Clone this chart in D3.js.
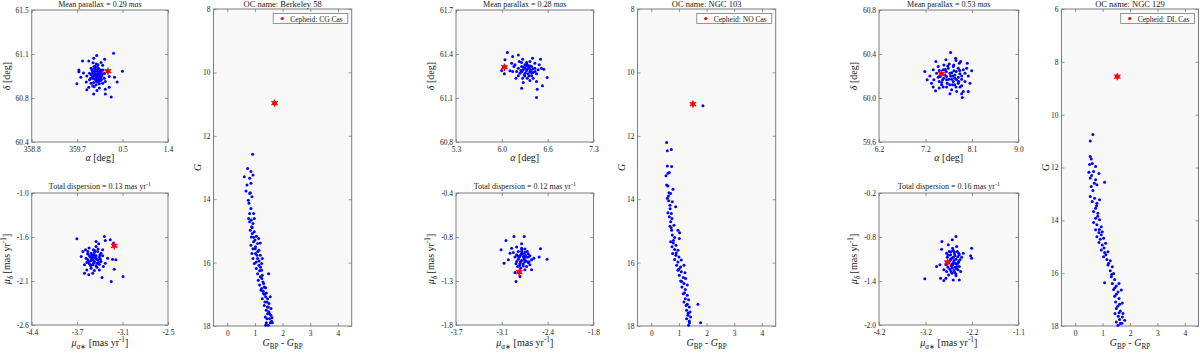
<!DOCTYPE html>
<html><head><meta charset="utf-8">
<script src="https://cdn.jsdelivr.net/npm/d3@7"></script>
<style>
body{margin:0;background:#fff}
svg{display:block}
</style></head><body>
<script>
// one column of panels per open cluster
var clusterNames = ["Berkeley 58", "NGC 103", "NGC 129"];
var cepheidNames = ["CG Cas", "NO Cas", "DL Cas"];
var meanParallax = ["0.29", "0.28", "0.53"];
var totalDispersion = ["0.13", "0.12", "0.16"];

// tick labels (4 evenly spaced ticks, first/last = axis limits)
var raTicks = [["358.8", "359.7", "0.5", "1.4"], ["5.3", "6.0", "6.6", "7.3"], ["6.2", "7.2", "8.1", "9.0"]];
var decTicks = [["60.4", "60.8", "61.1", "61.5"], ["60.8", "61.1", "61.4", "61.7"], ["59.6", "60.0", "60.4", "60.8"]];
var pmraTicks = [["-4.4", "-3.7", "-3.1", "-2.5"], ["-3.7", "-3.1", "-2.4", "-1.8"], ["-4.2", "-3.2", "-2.2", "-1.1"]];
var pmdecTicks = [["-2.6", "-2.1", "-1.6", "-1.0"], ["-1.8", "-1.3", "-0.8", "-0.4"], ["-2.0", "-1.4", "-0.8", "-0.2"]];
var colorTicks = [0, 1, 2, 3, 4];
var gTicks = [[8, 10, 12, 14, 16, 18], [8, 10, 12, 14, 16, 18], [6, 8, 10, 12, 14, 16, 18]];

// cepheids: [ra, dec], [pmra, pmdec], [BP-RP, G]
var cepheidPos = [[0.254, 60.99], [6.004, 61.31], [7.456, 60.22]];
var cepheidPM = [[-3.25, -1.64], [-2.826, -1.24], [-2.676, -1.148]];
var cepheidCMD = [[1.71, 10.97], [1.506, 11.0], [1.537, 8.56]];

// member stars
var b58Pos = [[0.361,61.14],[359.769,61.076],[359.889,61.076],[0.040,61.12],[359.983,61.098],[0.191,61.09],[359.700,61.001],[359.700,60.985],[359.788,60.974],[359.662,60.885],[359.738,60.94],[359.851,60.95],[359.84,60.899],[359.902,60.918],[359.851,60.835],[359.889,60.857],[359.965,60.868],[359.983,60.80],[0.046,60.83],[0.09,60.85],[0.204,60.80],[0.204,60.84],[0.279,60.857],[0.317,60.774],[0.38,60.94],[0.43,60.90],[0.531,60.99],[0.279,60.946],[0.204,60.904],[0.122,61.0],[0.154,61.04],[0.015,60.951],[0.059,60.968],[0.090,60.987],[0.028,61.001],[359.965,60.987],[359.933,60.960],[0.078,60.932],[0.122,60.946],[0.154,60.968],[359.996,60.924],[0.040,60.904],[0.109,60.910],[359.952,60.94],[0.015,61.029],[0.065,61.043],[0.122,61.062],[359.933,61.015],[359.902,60.973],[359.983,60.896],[0.090,60.885],[0.154,60.890],[0.185,60.932],[0.028,60.877],[359.933,60.890],[0.04,60.96],[0.0,60.97],[0.07,60.95],[0.1,60.96],[0.05,60.99],[359.98,60.95],[0.02,60.93],[0.11,60.98],[359.95,61.0],[0.06,60.92],[0.13,60.92],[0.0,61.01],[0.08,61.01],[359.92,60.93],[0.03,61.05],[359.97,61.06],[0.16,61.0],[0.19,60.97],[0.09,60.91],[359.99,60.86],[0.01,60.99],[0.05,60.94],[0.08,60.97],[359.97,60.93],[0.12,60.99],[0.03,60.915],[0.06,61.02],[359.99,61.03],[0.1,60.935],[0.14,60.95],[0.02,60.96],[359.96,60.97],[0.07,60.9],[0.045,61.0]];
var b58PM = [[-3.77,-1.555],[-3.388,-1.527],[-3.305,-1.567],[-3.259,-1.607],[-3.374,-1.575],[-3.503,-1.587],[-3.466,-1.616],[-3.687,-1.709],[-3.65,-1.689],[-3.664,-1.871],[-3.632,-1.932],[-3.604,-1.992],[-3.549,-1.972],[-3.526,-1.94],[-3.42,-2.025],[-3.291,-2.073],[-3.25,-1.923],[-3.227,-1.81],[-3.273,-1.802],[-3.126,-2.013],[-3.342,-1.79],[-3.374,-1.85],[-3.71,-1.77],[-3.664,-1.972],[-3.618,-1.709],[-3.572,-1.729],[-3.526,-1.721],[-3.48,-1.709],[-3.434,-1.729],[-3.595,-1.761],[-3.549,-1.778],[-3.503,-1.761],[-3.457,-1.778],[-3.411,-1.761],[-3.618,-1.81],[-3.572,-1.818],[-3.526,-1.83],[-3.48,-1.81],[-3.434,-1.83],[-3.595,-1.859],[-3.549,-1.871],[-3.503,-1.883],[-3.457,-1.863],[-3.572,-1.911],[-3.503,-1.648],[-3.475,-1.68],[-3.54,-1.689],[-3.6,-1.668],[-3.411,-1.689],[-3.402,-1.891],[-3.641,-1.79],[-3.632,-1.842],[-3.457,-1.932],[-3.517,-1.79],[-3.558,-1.802],[-3.49,-1.85],[-3.443,-1.802],[-3.531,-1.749],[-3.581,-1.778],[-3.56,-1.75],[-3.5,-1.8],[-3.54,-1.85],[-3.47,-1.84],[-3.6,-1.83],[-3.52,-1.7],[-3.45,-1.75],[-3.58,-1.88],[-3.49,-1.9],[-3.62,-1.74],[-3.51,-1.77],[-3.55,-1.81]];
var b58CMD = [[0.916,12.58],[0.735,13.03],[0.614,13.29],[0.855,13.13],[0.928,13.24],[0.807,13.34],[0.711,13.55],[0.855,13.50],[0.675,13.74],[0.831,13.80],[0.892,13.92],[0.783,14.13],[0.855,14.29],[0.807,14.45],[0.771,14.61],[0.867,14.66],[0.976,14.61],[0.928,14.77],[0.831,14.98],[0.976,15.03],[0.867,15.19],[1.048,15.17],[1.133,15.24],[0.952,15.34],[1.096,15.40],[0.855,15.45],[1.193,15.38],[1.012,15.56],[0.892,15.71],[1.072,15.77],[1.193,15.77],[0.928,15.87],[1.096,15.87],[1.265,15.87],[0.976,16.03],[1.145,16.08],[1.048,16.19],[1.241,16.24],[1.494,16.35],[1.096,16.35],[1.193,16.45],[1.12,16.56],[1.289,16.61],[1.169,16.71],[1.337,16.77],[1.217,16.87],[1.313,16.98],[1.386,17.08],[1.265,17.14],[1.434,17.24],[1.337,17.35],[1.482,17.40],[1.41,17.50],[1.554,17.08],[1.578,17.45],[1.458,17.61],[1.374,17.72],[1.53,17.77],[1.614,17.74],[1.41,17.90],[1.554,17.90],[1.482,17.98],[1.627,17.90],[1.024,15.71],[0.928,15.56],[1.145,15.61],[1.241,16.03],[1.048,15.98],[1.0,15.29],[0.904,15.08],[1.169,16.26],[1.265,16.40],[1.313,16.66],[1.386,16.79],[1.241,16.82],[1.41,16.96],[1.458,17.14],[1.361,17.24],[1.506,17.29],[1.53,17.61],[1.578,17.66],[1.434,17.77],[1.386,17.98],[0.88,14.87],[0.807,14.71],[0.952,14.45],[0.759,14.03],[0.807,13.82],[1.02,15.5],[1.1,15.65],[1.15,15.95],[1.2,16.15],[1.25,16.5],[1.3,16.9],[1.35,17.0],[1.45,17.4],[1.5,17.55],[1.6,17.85],[0.95,15.2],[0.9,14.9]];

var n103Pos = [[6.047,61.41],[6.124,61.383],[6.206,61.394],[6.013,61.36],[5.965,61.287],[6.004,61.265],[6.085,61.285],[6.143,61.315],[6.22,61.349],[6.269,61.364],[6.413,61.371],[6.529,61.364],[6.577,61.296],[6.625,61.24],[6.558,61.183],[6.481,61.16],[6.471,61.213],[6.471,61.104],[6.375,61.22],[6.278,61.206],[6.254,61.167],[6.172,61.235],[6.124,61.28],[6.254,61.315],[6.302,61.326],[6.351,61.319],[6.399,61.315],[6.447,61.303],[6.495,61.292],[6.278,61.292],[6.326,61.287],[6.375,61.281],[6.423,61.274],[6.23,61.269],[6.292,61.258],[6.351,61.265],[6.399,61.251],[6.326,61.342],[6.375,61.349],[6.254,61.342],[6.206,61.303],[6.182,61.281],[6.447,61.337],[6.543,61.303],[6.51,61.326],[6.302,61.303],[6.244,61.287],[6.336,61.235],[6.268,61.235],[6.423,61.235],[6.206,61.251],[6.158,61.326],[6.109,61.337],[6.471,61.265],[6.365,61.303],[6.317,61.319],[6.28,61.31],[6.34,61.3],[6.39,61.29],[6.31,61.27],[6.36,61.25],[6.42,61.3],[6.26,61.28],[6.33,61.33],[6.4,61.27],[6.3,61.25],[6.45,61.28],[6.37,61.32]];
var n103PM = [[-3.077,-1.002],[-3.009,-0.903],[-2.899,-0.861],[-2.757,-0.861],[-2.794,-0.939],[-3.036,-1.144],[-2.977,-1.109],[-2.885,-1.243],[-2.871,-1.339],[-2.816,-1.286],[-2.533,-0.992],[-2.441,-1.102],[-2.551,-1.08],[-2.624,-1.091],[-2.656,-1.215],[-2.748,-1.215],[-2.954,-1.038],[-2.931,-0.985],[-2.862,-0.974],[-2.839,-1.02],[-2.794,-1.02],[-2.748,-1.031],[-2.702,-1.045],[-2.862,-1.056],[-2.816,-1.066],[-2.771,-1.073],[-2.725,-1.08],[-2.679,-1.066],[-2.839,-1.102],[-2.794,-1.116],[-2.748,-1.127],[-2.702,-1.137],[-2.816,-1.151],[-2.771,-1.173],[-2.725,-1.18],[-2.862,-1.127],[-2.885,-1.08],[-2.656,-1.109],[-2.794,-0.985],[-2.748,-0.995],[-2.908,-1.031],[-2.807,-1.197],[-2.848,-1.18],[-2.679,-1.162],[-2.78,-1.045],[-2.825,-1.08],[-2.757,-1.102],[-2.716,-1.02],[-2.871,-1.151],[-2.8,-1.05],[-2.76,-1.09],[-2.73,-1.12],[-2.81,-1.13],[-2.77,-1.15],[-2.7,-1.08],[-2.84,-1.07],[-2.79,-1.0],[-2.74,-1.06],[-2.82,-1.17],[-2.69,-1.13]];
var n103CMD = [[1.867,11.05],[0.554,12.21],[0.578,12.47],[0.723,12.43],[0.578,12.95],[0.735,12.97],[0.602,13.18],[0.651,13.16],[0.53,13.26],[0.783,13.69],[0.554,13.55],[0.602,13.58],[0.639,13.80],[0.699,13.82],[0.578,13.97],[0.627,14.05],[0.759,14.08],[0.88,14.24],[0.675,14.19],[0.602,14.43],[0.723,14.45],[0.651,14.55],[0.747,14.61],[0.699,14.71],[0.675,14.85],[0.819,14.82],[0.735,14.98],[0.964,14.98],[1.024,15.06],[0.759,15.13],[0.843,15.21],[1.012,15.24],[0.699,15.34],[0.795,15.38],[0.892,15.45],[0.747,15.50],[0.843,15.59],[0.964,15.61],[0.771,15.71],[0.892,15.77],[1.0,15.82],[0.843,15.90],[0.964,15.98],[1.084,15.92],[0.916,16.08],[1.06,16.14],[1.181,16.08],[0.964,16.24],[1.084,16.29],[1.217,16.32],[1.012,16.40],[1.157,16.47],[1.241,16.50],[1.06,16.58],[1.181,16.66],[1.301,16.71],[1.108,16.77],[1.229,16.85],[1.157,16.98],[1.301,17.03],[1.229,17.14],[1.349,17.17],[1.181,17.24],[1.301,17.31],[1.687,17.31],[1.373,17.40],[1.277,17.50],[1.398,17.56],[1.325,17.66],[1.422,17.72],[1.277,17.77],[1.373,17.84],[1.783,17.90],[1.349,17.98],[0.62,13.9],[0.68,14.3],[0.72,14.9],[0.8,15.3],[0.9,15.7],[1.0,16.2],[1.1,16.6],[1.2,16.95],[1.26,17.35],[1.33,17.6],[1.38,17.9]];

var n129Pos = [[7.637,60.413],[7.12,60.241],[7.167,60.165],[7.288,60.099],[7.335,60.065],[7.254,60.135],[7.342,60.331],[7.543,60.347],[7.738,60.362],[7.745,60.34],[7.838,60.331],[7.973,60.316],[8.06,60.247],[7.993,60.201],[8.026,60.135],[7.993,60.06],[7.872,60.005],[7.892,60.06],[7.825,60.099],[7.791,60.135],[7.556,60.099],[7.456,60.12],[7.409,60.15],[7.221,60.201],[7.288,60.256],[7.389,60.286],[7.489,60.256],[7.59,60.271],[7.691,60.286],[7.791,60.271],[7.892,60.256],[7.523,60.21],[7.624,60.226],[7.724,60.21],[7.825,60.22],[7.926,60.226],[7.422,60.195],[7.556,60.165],[7.657,60.171],[7.758,60.165],[7.859,60.171],[7.355,60.226],[7.61,60.31],[7.704,60.247],[7.476,60.165],[7.57,60.135],[7.677,60.12],[7.745,60.099],[7.657,60.075],[7.758,60.06],[7.859,60.111],[7.926,60.15],[7.502,60.301],[7.812,60.316],[7.409,60.25],[7.301,60.165],[7.556,60.195],[7.637,60.201],[7.791,60.189],[7.691,60.15],[7.859,60.038],[7.624,60.038],[7.489,60.099],[7.409,60.09],[7.389,60.189],[7.959,60.271],[7.45,60.22],[7.55,60.24],[7.66,60.23],[7.75,60.24],[7.86,60.2],[7.5,60.18],[7.6,60.17],[7.72,60.18],[7.8,60.15],[7.58,60.29],[7.7,60.3],[7.62,60.12],[7.72,60.12],[7.53,60.26],[7.82,60.25],[7.68,60.2],[7.46,60.14]];
var n129PM = [[-2.49,-0.792],[-2.572,-0.838],[-2.802,-0.861],[-2.661,-0.906],[-2.81,-0.966],[-2.141,-0.952],[-2.163,-1.057],[-2.141,-1.089],[-2.327,-1.02],[-2.921,-1.203],[-2.847,-1.18],[-3.182,-1.371],[-2.832,-1.362],[-2.758,-1.394],[-2.713,-1.362],[-2.55,-1.385],[-2.416,-1.385],[-2.49,-1.303],[-2.698,-1.271],[-2.758,-1.248],[-2.639,-0.997],[-2.55,-0.984],[-2.46,-0.997],[-2.609,-1.043],[-2.513,-1.057],[-2.416,-1.043],[-2.683,-1.075],[-2.587,-1.089],[-2.49,-1.102],[-2.401,-1.111],[-2.639,-1.134],[-2.55,-1.148],[-2.46,-1.166],[-2.594,-1.193],[-2.505,-1.212],[-2.416,-1.203],[-2.624,-1.239],[-2.535,-1.257],[-2.446,-1.248],[-2.579,-1.294],[-2.49,-1.33],[-2.654,-1.317],[-2.565,-0.952],[-2.475,-0.929],[-2.698,-1.02],[-2.364,-1.075],[-2.713,-1.18],[-2.386,-1.271],[-2.528,-1.006],[-2.609,-1.102],[-2.431,-1.134],[-2.565,-1.166],[-2.668,-1.212],[-2.475,-1.203],[-2.55,-1.075],[-2.6,-1.0],[-2.52,-1.03],[-2.45,-1.07],[-2.62,-1.12],[-2.53,-1.12],[-2.44,-1.15],[-2.57,-1.22],[-2.48,-1.23],[-2.6,-1.27],[-2.52,-1.28],[-2.66,-1.05],[-2.43,-1.02],[-2.56,-1.18],[-2.5,-1.16]];
var n129CMD = [[0.646,10.75],[0.549,11.0],[0.549,11.58],[0.585,11.68],[0.524,11.89],[0.622,11.85],[0.744,11.96],[0.5,12.18],[0.671,12.15],[0.866,12.23],[0.549,12.40],[0.744,12.46],[0.585,12.72],[0.793,12.65],[1.073,12.56],[0.646,12.87],[0.549,13.10],[0.707,13.16],[0.622,13.29],[0.793,13.35],[0.89,13.22],[0.744,13.54],[0.671,13.67],[0.829,13.73],[0.744,13.92],[0.89,13.98],[0.671,14.08],[0.793,14.17],[0.951,14.24],[0.744,14.36],[0.866,14.46],[0.988,14.43],[0.793,14.62],[0.915,14.72],[1.037,14.68],[0.866,14.84],[0.988,14.93],[1.11,14.87],[0.951,15.12],[1.073,15.22],[1.195,15.19],[1.037,15.38],[1.159,15.48],[1.28,15.53],[1.195,15.69],[1.354,15.76],[1.28,15.91],[1.402,16.01],[1.073,16.36],[1.317,16.14],[1.439,16.24],[1.354,16.39],[1.5,16.49],[1.598,16.39],[1.402,16.62],[1.561,16.71],[1.683,16.64],[1.439,16.87],[1.598,16.96],[1.476,17.09],[1.622,17.18],[1.72,17.13],[1.5,17.34],[1.646,17.43],[1.451,17.53],[1.573,17.63],[1.72,17.66],[1.805,17.78],[1.5,17.85],[1.646,17.91],[1.561,17.97],[1.744,17.53],[0.6,12.3],[0.7,12.6],[0.78,13.45],[0.82,13.85],[0.88,14.35],[0.95,14.55],[1.05,15.05],[1.12,15.3],[1.22,15.62],[1.33,16.05],[1.45,16.55],[1.5,16.8],[1.55,17.25],[1.6,17.5],[1.7,17.9],[1.62,17.75]];

var posData = [b58Pos, n103Pos, n129Pos];
var pmData = [b58PM, n103PM, n129PM];
var cmdData = [b58CMD, n103CMD, n129CMD];

// layout
var smallLeft = [31.7, 456, 879], smallRight = [168, 593.5, 1018.5];
var cmdLeft = [213.5, 637.5, 1061.5], cmdRight = [351.7, 775.7, 1198.5];
var posTop = 10, pmTop = 193, smallH = 132, cmdTop = 9, cmdBottom = 326;
var frameColor = "#7d7d7d", textColor = "#1a1a1a", serif = "Liberation Serif";

var svg = d3.select("body").append("svg")
    .attr("width", 1200)
    .attr("height", 353)
    .attr("font-family", serif);

// RA wraps at 360
function wrapRa(v) { return v > 180 ? v - 360 : v; }

function rich(text, parts, fs) {
  var shift = 0;
  parts.forEach(function(p) {
    var want = p.sub ? fs * 0.3 : (p.sup ? -fs * 0.38 : 0);
    var ts = text.append("tspan").attr("dy", want - shift).text(p.t);
    shift = want;
    if (p.sub || p.sup) ts.attr("font-size", fs * 0.72);
    if (p.i) ts.attr("font-style", "italic");
  });
}

function drawFrame(x, y, left, right, top, bottom, xVals, xFmt, yVals, yFmt) {
  svg.append("rect")
      .attr("x", left).attr("y", top)
      .attr("width", right - left).attr("height", bottom - top)
      .attr("fill", "#f8f8f8");

  var axes = [
    [d3.axisBottom(x).tickValues(xVals).tickFormat(xFmt).tickPadding(4.5), "translate(0," + bottom + ")"],
    [d3.axisTop(x).tickValues(xVals).tickFormat(""), "translate(0," + top + ")"],
    [d3.axisLeft(y).tickValues(yVals).tickFormat(yFmt).tickPadding(3), "translate(" + left + ",0)"],
    [d3.axisRight(y).tickValues(yVals).tickFormat(""), "translate(" + right + ",0)"]
  ];
  axes.forEach(function(a) {
    var g = svg.append("g")
        .attr("transform", a[1])
        .call(a[0].tickSize(-3).tickSizeOuter(0))
        .attr("font-family", serif)
        .attr("font-size", 7.5);
    g.select(".domain").remove();
    g.selectAll("line").attr("stroke", frameColor).attr("stroke-width", 0.8);
    g.selectAll("text").attr("fill", textColor);
  });

  svg.append("rect")
      .attr("x", left).attr("y", top)
      .attr("width", right - left).attr("height", bottom - top)
      .attr("fill", "none")
      .attr("stroke", frameColor)
      .attr("stroke-width", 1);
}

function drawStars(x, y, data) {
  svg.append("g").selectAll("circle")
      .data(data)
      .join("circle")
      .attr("cx", function(d) { return x(d[0]); })
      .attr("cy", function(d) { return y(d[1]); })
      .attr("r", 1.5)
      .attr("fill", "#0000ff");
}

function drawCepheid(cx, cy) {
  svg.append("circle")
      .attr("cx", cx).attr("cy", cy)
      .attr("r", 2.4)
      .attr("fill", "#ff0000");
  svg.append("path")
      .attr("transform", "translate(" + cx + "," + cy + ")")
      .attr("d", d3.symbol(d3.symbolAsterisk, 38)())
      .attr("stroke", "#ff0000")
      .attr("stroke-width", 1.3);
}

function title(cx, y, parts, fs) {
  var t = svg.append("text")
      .attr("x", cx).attr("y", y)
      .attr("text-anchor", "middle")
      .attr("fill", textColor)
      .attr("font-size", fs);
  rich(t, parts, fs);
  return t;
}

function yLabel(cx, cy, parts, fs) {
  var t = svg.append("text")
      .attr("transform", "translate(" + cx + "," + cy + ") rotate(-90)")
      .attr("text-anchor", "middle")
      .attr("fill", textColor)
      .attr("font-size", fs);
  rich(t, parts, fs);
}

function evenTicks(labels, conv) {
  var a = conv(+labels[0]), b = conv(+labels[labels.length - 1]);
  return d3.range(labels.length).map(function(i) { return a + i * (b - a) / (labels.length - 1); });
}

function labelFmt(lab) {
  return function(d, i) { return lab[i]; };
}

for (var k = 0; k < 3; k++) {
  var L = smallLeft[k], R = smallRight[k], mid = (L + R) / 2;

  // sky positions
  var raVals = evenTicks(raTicks[k], wrapRa);
  var decVals = evenTicks(decTicks[k], Number);
  var x1 = d3.scaleLinear().domain([raVals[0], raVals[3]]).range([L, R]);
  var y1 = d3.scaleLinear().domain([decVals[0], decVals[3]]).range([posTop + smallH, posTop]);
  drawFrame(x1, y1, L, R, posTop, posTop + smallH,
      raVals, labelFmt(raTicks[k]), decVals, labelFmt(decTicks[k]));
  drawStars(function(v) { return x1(wrapRa(v)); }, y1, posData[k]);
  drawCepheid(x1(wrapRa(cepheidPos[k][0])), y1(cepheidPos[k][1]));
  title(mid, 7, [{t: "Mean parallax = " + meanParallax[k] + " "}, {t: "mas", i: true}], 8);
  title(mid, 161, [{t: "α", i: true}, {t: " [deg]"}], 10);
  yLabel(L - 22, posTop + smallH / 2, [{t: "δ", i: true}, {t: " [deg]"}], 10);

  // proper motions
  var pxVals = evenTicks(pmraTicks[k], Number);
  var pyVals = evenTicks(pmdecTicks[k], Number);
  var x2 = d3.scaleLinear().domain([pxVals[0], pxVals[3]]).range([L, R]);
  var y2 = d3.scaleLinear().domain([pyVals[0], pyVals[3]]).range([pmTop + smallH, pmTop]);
  drawFrame(x2, y2, L, R, pmTop, pmTop + smallH,
      pxVals, labelFmt(pmraTicks[k]), pyVals, labelFmt(pmdecTicks[k]));
  drawStars(x2, y2, pmData[k]);
  drawCepheid(x2(cepheidPM[k][0]), y2(cepheidPM[k][1]));
  title(mid, pmTop - 4, [{t: "Total dispersion = " + totalDispersion[k] + " mas yr"}, {t: "-1", sup: true}], 8);
  title(mid, 346, [{t: "μ", i: true}, {t: "α", sub: true, i: true}, {t: "∗", sub: true},
      {t: " [mas yr"}, {t: "-1", sup: true}, {t: "]"}], 10);
  yLabel(L - 22, pmTop + smallH / 2, [{t: "μ", i: true}, {t: "δ", sub: true, i: true},
      {t: " [mas yr"}, {t: "-1", sup: true}, {t: "]"}], 10);

  // colour-magnitude diagram
  var CL = cmdLeft[k], CR = cmdRight[k], cmid = (CL + CR) / 2;
  var gt = gTicks[k];
  var x3 = d3.scaleLinear().domain([colorTicks[0] - 0.5, colorTicks[colorTicks.length - 1] + 0.5]).range([CL, CR]);
  var y3 = d3.scaleLinear().domain([gt[0], gt[gt.length - 1]]).range([cmdTop, cmdBottom]);
  drawFrame(x3, y3, CL, CR, cmdTop, cmdBottom, colorTicks, d3.format("d"), gt, d3.format("d"));
  drawStars(x3, y3, cmdData[k]);
  drawCepheid(x3(cepheidCMD[k][0]), y3(cepheidCMD[k][1]));
  title(cmid, 7, [{t: "OC name: " + clusterNames[k]}], 8.5);
  title(cmid, 346, [{t: "G", i: true}, {t: "BP", sub: true}, {t: " - "}, {t: "G", i: true}, {t: "RP", sub: true}], 10);
  yLabel(CL - 13, (cmdTop + cmdBottom) / 2, [{t: "G", i: true}], 10);

  // legend
  var lg = svg.append("g");
  var lt = lg.append("text")
      .attr("y", 21.5)
      .attr("fill", textColor)
      .attr("font-size", 7.5)
      .text("Cepheid: " + cepheidNames[k]);
  var tw = lt.node().getComputedTextLength();
  var bw = tw + 22, bx = CR - 4 - bw;
  lg.insert("rect", "text")
      .attr("x", bx).attr("y", 13.5)
      .attr("width", bw).attr("height", 10)
      .attr("fill", "#fff")
      .attr("stroke", frameColor)
      .attr("stroke-width", 0.8);
  lt.attr("x", bx + 17);
  lg.append("circle")
      .attr("cx", bx + 9).attr("cy", 18.5)
      .attr("r", 1.6)
      .attr("fill", "#ff0000");
}
</script>
</body></html>
